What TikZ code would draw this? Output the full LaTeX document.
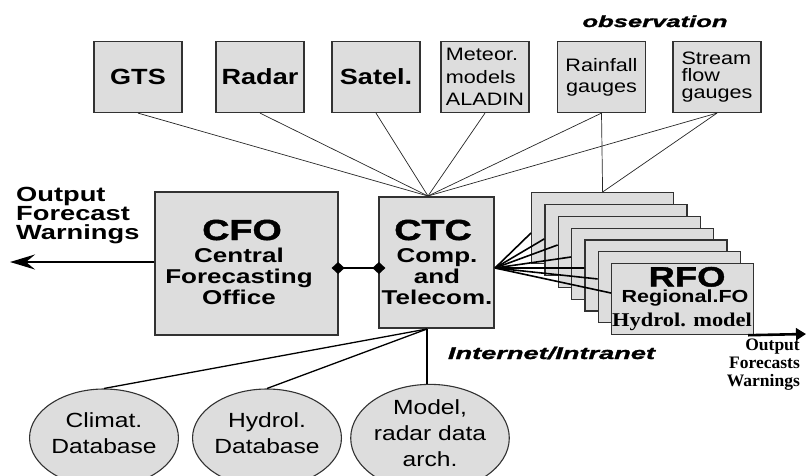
\documentclass[tikz,border=0pt]{standalone}
\usepackage{fontspec}
\setmainfont{Liberation Sans}
\newfontfamily\fReg[FakeStretch=1.2]{Liberation Sans}
\newfontfamily\fBold[FakeStretch=1.23]{Liberation Sans Bold}
\newfontfamily\fMidB[FakeStretch=1.3]{Liberation Sans Bold}
\newfontfamily\fWideB[FakeStretch=1.33]{Liberation Sans Bold}
\newfontfamily\fHeavy[FakeStretch=1.3,FakeBold=1.5]{Liberation Sans Bold}
\newfontfamily\fHeavyIt[FakeStretch=1.6,FakeBold=1.5]{Liberation Sans Bold Italic}
\newfontfamily\fSerB[FakeStretch=1.15]{Liberation Serif Bold}
\newfontfamily\fSerN{Liberation Serif Bold}
\newcommand\fsz[2]{\fontsize{#1}{#2}\selectfont}
\usetikzlibrary{arrows.meta,shapes.geometric,calc}
\definecolor{boxfill}{RGB}{221,221,221}
\definecolor{edge}{RGB}{50,50,50}
\tikzset{
  box/.style={draw=edge, line width=1.2pt, fill=boxfill, inner sep=0pt},
  topbox/.style={box, minimum width=88pt, minimum height=71pt},
  stackbox/.style={box, minimum width=142pt, minimum height=71pt, anchor=north west},
  dbell/.style={ellipse, draw=edge, line width=1.1pt, fill=boxfill,
    minimum width=142pt, minimum height=98pt, inner sep=0pt, align=center,
    font=\fReg\fsz{20.5}{26}, text depth=9pt},
  thinline/.style={line width=0.7pt, draw=black!85},
  rfoline/.style={line width=1.6pt, draw=black},
  dbline/.style={line width=1.3pt, draw=black},
  linkline/.style={line width=2.2pt, draw=black,
    {Diamond[length=13pt,width=12pt]}-{Diamond[length=13pt,width=12pt]},
    shorten <=-7pt, shorten >=-7pt},
  bigarrow/.style={line width=2.6pt, draw=black, -{Stealth[length=25pt,width=15pt,inset=9pt]}},
  smallarrow/.style={line width=2.6pt, draw=black, -{Triangle[length=10pt,width=12pt]}},
  bigtxt/.style={font=\fBold\fsz{22}{25}},
  heavytxt/.style={font=\fHeavy\fsz{29}{32}, anchor=base, inner sep=0pt},
  midtxt/.style={font=\fMidB\fsz{20}{21}, align=center, inner sep=0pt},
}
\begin{document}
\begin{tikzpicture}[x=1pt,y=-1pt]
\useasboundingbox (0,0) rectangle (806,475);

% top sources
\node[topbox, bigtxt] (gts) at (138,77) {GTS};
\node[topbox, bigtxt] (radar) at (260,77) {Radar};
\node[topbox, bigtxt] (satel) at (376,77) {Satel.};
\node[topbox, font=\fReg\fsz{18}{22.5}, align=left] (meteor) at (485,77) {Meteor.\\models\\ALADIN};
\node[topbox, font=\fReg\fsz{18}{21}, align=center] (rain) at (601.5,77) {Rainfall\\gauges};
\node[topbox, font=\fReg\fsz{18}{17}, align=left] (stream) at (717,77) {Stream\\flow\\gauges};
\node[font=\fHeavyIt\fsz{16}{18}, anchor=base, inner sep=0pt] (obs) at (655,27) {observation};

% central offices
\node[box, minimum width=183pt, minimum height=143pt] (cfo) at (246.5,263.5) {};
\node[heavytxt] (cfoT) at (242,240) {CFO};
\node[midtxt] (cfoS) at (239,276) {Central\\Forecasting\\Office};

\node[box, minimum width=115pt, minimum height=131pt] (ctc) at (436.5,262.5) {};
\node[heavytxt] (ctcT) at (433,240) {CTC};
\node[midtxt] (ctcS) at (437,276.5) {Comp.\\and\\Telecom.};

% regional forecasting offices (stack)
\foreach \i in {0,...,6}
  \node[stackbox] (r\i) at ({531+13.333*\i},{192+11.833*\i}) {};
\node[heavytxt, font=\fHeavy\fsz{28}{30}] (rfoT) at (687,286.5) {RFO};
\node[font=\fBold\fsz{17.5}{20}, anchor=base, inner sep=0pt] (rfoR) at (685,302) {Regional.FO};
\node[font=\fSerB\fsz{19.5}{22}, anchor=base, inner sep=0pt] (rfoH) at (682,326) {Hydrol. model};

% hubs
\coordinate (hubT) at (428,196);
\coordinate (hubR) at (495,268);
\coordinate (hubB) at (427,329);
\coordinate (outL) at (10,262);
\coordinate (outR) at (806,334);

% connectors from sources
\foreach \n in {gts,radar,satel,meteor,rain,stream}
  \draw[thinline] (\n.south) -- (hubT);
\draw[thinline] (rain.south) -- (r0.north);
\draw[thinline] (stream.south) -- (r0.north);

% CTC to RFOs
\foreach \i/\d in {0/41,1/35,2/29.3,3/29.5,4/28.7,5/27.8,6/30}
  \draw[rfoline] (hubR) -- ($(r\i.north west)+(0,\d)$);

% CFO - CTC link
\draw[linkline] ([yshift=-4.5pt]cfo.east) -- ([yshift=-4.5pt]cfo.east -| ctc.west);

% outputs
\draw[bigarrow] (cfo.west |- outL) -- (outL);
\node[font=\fWideB\fsz{20.5}{19}, align=left, anchor=west, inner sep=0pt] (outLT) at (16,215.5) {Output\\Forecast\\Warnings};
\draw[smallarrow] ([xshift=-6pt]r6.south east) -- (outR);
\node[font=\fSerN\fsz{17.5}{18}, align=right, anchor=east, inner sep=0pt] (outRT) at (800,364.5) {Output\\Forecasts\\Warnings};
\node[font=\fHeavyIt\fsz{17}{20}, anchor=base, inner sep=0pt] (inet) at (551.5,359) {Internet/Intranet};

% databases
\node[dbell] (climat) at (104,438) {Climat.\\Database};
\node[dbell] (hydrol) at (267,438) {Hydrol.\\Database};
\node[dbell] (model) at (430,438) {Model,\\radar data\\arch.};
\draw[dbline] (hubB) -- (climat.north);
\draw[dbline] (hubB) -- (hydrol.north);
\draw[dbline] (hubB) -- (hubB |- model.north);
\end{tikzpicture}
\end{document}
